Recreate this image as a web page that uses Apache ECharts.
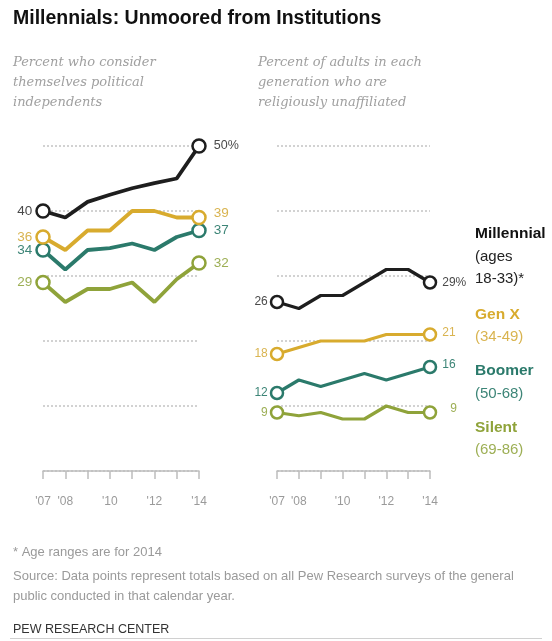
<!DOCTYPE html>
<html>
<head>
<meta charset="utf-8">
<script src="https://cdn.jsdelivr.net/npm/echarts@6/dist/echarts.min.js"></script>
<style>
  html, body { margin: 0; padding: 0; background: #fff; }
  #chart { width: 552px; height: 641px; }
</style>
</head>
<body>
<div id="chart"></div>
<script>
// Survey years and which of them get a tick label
const years = ["'07", "'08", "'09", "'10", "'11", "'12", "'13", "'14"];
const labeledYears = ["'07", "'08", "'10", "'12", "'14"];

// Percent who consider themselves political independents
const indepMillennial = [40, 39, 41.4, 42.5, 43.5, 44.3, 45, 50];
const indepGenX       = [36, 34, 37, 37, 40, 40, 39, 39];
const indepBoomer     = [34, 31, 34, 34.3, 35, 34, 36, 37];
const indepSilent     = [29, 26, 28, 28, 29, 26, 29.5, 32];

// Percent religiously unaffiliated
const relMillennial = [26, 25, 27, 27, 29, 31, 31, 29];
const relGenX       = [18, 19, 20, 20, 20, 21, 21, 21];
const relBoomer     = [12, 14, 13, 14, 15, 14, 15, 16];
const relSilent     = [9, 8.5, 9, 8, 8, 10, 9, 9];

const generations = [
  { name: 'Millennial', ages: ['(ages', '18-33)*'], color: '#1e1e1e', text: '#4a4a4a' },
  { name: 'Gen X', ages: ['(34-49)'], color: '#d8ab2e', text: '#d9b450' },
  { name: 'Boomer', ages: ['(50-68)'], color: '#2b7a6b', text: '#3d8577' },
  { name: 'Silent', ages: ['(69-86)'], color: '#8fa33a', text: '#9daf55' }
];

const narrow = '"Liberation Sans Narrow", "Liberation Sans", Arial, sans-serif';
const sans = '"Liberation Sans", Arial, sans-serif';

function lineSeries(panel, gen, values, cfg) {
  const last = values.length - 1;
  return {
    type: 'line',
    name: gen.name + panel,
    xAxisIndex: panel,
    yAxisIndex: panel,
    data: values.map((v, i) => {
      const item = { value: v };
      if (i === 0) {
        item.label = {
          show: true, position: 'left', distance: cfg.startDist,
          formatter: String(v), color: gen.text,
          fontSize: cfg.fontSize, fontFamily: narrow,
          offset: cfg.startOffset || [0, 0]
        };
      } else if (i === last) {
        item.label = {
          show: true, position: 'right', distance: cfg.endDist,
          formatter: v + (cfg.pct ? '%' : ''), color: gen.text,
          fontSize: cfg.endFontSize || cfg.fontSize, fontFamily: narrow,
          offset: cfg.endOffset || [0, 0]
        };
      }
      return item;
    }),
    symbol: 'circle',
    symbolSize: (val, p) => (p.dataIndex === 0 || p.dataIndex === last) ? cfg.symbolSize : 0,
    showAllSymbol: true,
    itemStyle: { color: '#fff', borderColor: gen.color, borderWidth: 2.5 },
    lineStyle: { color: gen.color, width: cfg.width },
    label: { show: false },
    emphasis: { disabled: true },
    z: cfg.z
  };
}

function xAxis(grid) {
  return {
    type: 'category', gridIndex: grid, data: years, boundaryGap: false,
    axisLine: { lineStyle: { color: '#bdbdbd', width: 1.5 } },
    axisTick: { show: true, length: 8, interval: 0, lineStyle: { color: '#bdbdbd', width: 1.5 } },
    axisLabel: {
      interval: 0, margin: 25, color: '#9a9a9a', fontSize: 12, fontFamily: narrow,
      formatter: v => labeledYears.includes(v) ? v : ''
    },
    splitLine: { show: false }
  };
}

function yAxis(grid) {
  return {
    type: 'value', gridIndex: grid, min: 0, max: 50, interval: 10,
    axisLine: { show: false }, axisTick: { show: false }, axisLabel: { show: false },
    splitLine: { lineStyle: { color: '#c4c4c4', type: [2, 2], width: 1.5 } }
  };
}

const leftCfg = { fontSize: 13.5, startDist: 3, endDist: 7, symbolSize: 13, width: 3.8 };
const rightCfg = { fontSize: 12, startDist: 2, endDist: 5, symbolSize: 12, width: 3.2 };

const series = [
  lineSeries(0, generations[3], indepSilent, leftCfg),
  lineSeries(0, generations[2], indepBoomer, leftCfg),
  lineSeries(0, generations[1], indepGenX, Object.assign({}, leftCfg, { endOffset: [0, -4] })),
  lineSeries(0, generations[0], indepMillennial, Object.assign({}, leftCfg, { pct: true, endFontSize: 12.5 })),
  lineSeries(1, generations[3], relSilent, Object.assign({}, rightCfg, { endOffset: [8, -4] })),
  lineSeries(1, generations[2], relBoomer, Object.assign({}, rightCfg, { endOffset: [0, -2] })),
  lineSeries(1, generations[1], relGenX, Object.assign({}, rightCfg, { endOffset: [0, -2] })),
  lineSeries(1, generations[0], relMillennial, Object.assign({}, rightCfg, { pct: true }))
];

// Generation key to the right of the second panel
const keyRows = [];
const keyTops = [[226], [307], [363], [420]];
const keyAgeTops = [[249, 271], [329], [386], [442]];
generations.forEach((g, gi) => {
  keyRows.push({
    type: 'text', left: 475, top: keyTops[gi][0],
    style: { text: g.name, fill: gi === 0 ? '#111' : g.color, font: 'bold 15.5px ' + narrow }
  });
  g.ages.forEach((a, ai) => {
    keyRows.push({
      type: 'text', left: 475, top: keyAgeTops[gi][ai],
      style: { text: a, fill: gi === 0 ? '#222' : g.text, font: '15px ' + narrow }
    });
  });
});

const subtitleFont = 'italic 13px "DejaVu Serif", "Liberation Serif", serif';
const graphics = [
  { type: 'text', left: 13, top: 9, style: { text: 'Millennials: Unmoored from Institutions', fill: '#111', font: 'bold 19.5px ' + sans } },
  { type: 'text', left: 13, top: 53, style: { text: 'Percent who consider\nthemselves political\nindependents', fill: '#a0a0a0', font: subtitleFont, lineHeight: 20 } },
  { type: 'text', left: 258, top: 53, style: { text: 'Percent of adults in each\ngeneration who are\nreligiously unaffiliated', fill: '#a0a0a0', font: subtitleFont, lineHeight: 20 } },
  { type: 'text', left: 13, top: 546, style: { text: '* Age ranges are for 2014', fill: '#9a9a9a', font: '13px ' + sans } },
  { type: 'text', left: 13, top: 566, style: { text: 'Source: Data points represent totals based on all Pew Research surveys of the general\npublic conducted in that calendar year.', fill: '#9a9a9a', font: '13px ' + sans, lineHeight: 20 } },
  { type: 'text', left: 13, top: 623, style: { text: 'PEW RESEARCH CENTER', fill: '#333', font: '12.5px ' + narrow } },
  { type: 'rect', shape: { x: 10, y: 638, width: 532, height: 1 }, style: { fill: '#d0d0d0' } }
].concat(keyRows);

const chart = echarts.init(document.getElementById('chart'), null, { renderer: 'canvas' });
chart.setOption({
  animation: false,
  backgroundColor: '#fff',
  grid: [
    { left: 43, top: 146, width: 156, height: 325 },
    { left: 277, top: 146, width: 153, height: 325 }
  ],
  xAxis: [xAxis(0), xAxis(1)],
  yAxis: [yAxis(0), yAxis(1)],
  series: series,
  graphic: graphics
});
</script>
</body>
</html>
